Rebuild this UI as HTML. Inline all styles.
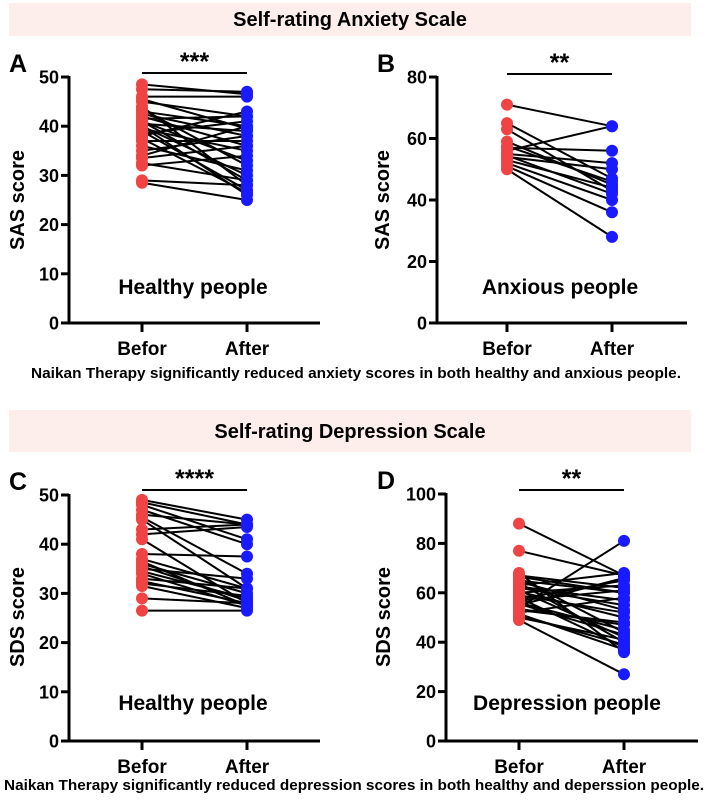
<!DOCTYPE html>
<html><head><meta charset="utf-8"><style>
body{margin:0;background:#fff;}
svg{display:block;font-family:"Liberation Sans",Arial,sans-serif;}
</style></head><body>
<svg id="fig" width="709" height="804" viewBox="0 0 709 804">
<rect x="9" y="3" width="682" height="33" fill="#fdeeeb"/>
<text x="350" y="26" text-anchor="middle" font-size="20" font-weight="bold">Self-rating Anxiety Scale</text>
<rect x="9" y="410" width="682" height="42" fill="#fdeeeb"/>
<text x="350" y="438" text-anchor="middle" font-size="20" font-weight="bold">Self-rating Depression Scale</text>
<text x="356" y="378" text-anchor="middle" font-size="15" font-weight="bold" textLength="650" lengthAdjust="spacingAndGlyphs">Naikan Therapy significantly reduced anxiety scores in both healthy and anxious people.</text>
<text x="354" y="790" text-anchor="middle" font-size="15" font-weight="bold" textLength="700" lengthAdjust="spacingAndGlyphs">Naikan Therapy significantly reduced depression scores in both healthy and deperssion people.</text>
</svg>
<script>
// Panel A data (SAS, healthy)
const categories = ["Befor","After"];
const aBefore = [48.5,47.5,46,45,44,43,42.5,42,41.5,41,40.5,40,39.5,39,38.5,37,36,35,34,33.5,32.5,32,29,28.5,43.5,40,45.5,38,41,37.5];
const aAfter  = [46.5,47,46,42,28,40,38,36,42,33,39,30,35,27,41,37,31,38,40,36,29,34,28,25,32,26,39.5,43,29,26.5];
const aTicks = [0,10,20,30,40,50];
// Panel B data (SAS, anxious)
const bBefore = [71,65,63,59,57,56,55,54,53,52,51,50,57.5,54.5];
const bAfter  = [64,47,43,45,56,64,52,50,44,40,36,28,46,42];
const bTicks = [0,20,40,60,80];
// Panel C data (SDS, healthy)
const cBefore = [49,48.5,48,47,46,45.5,45,43,42,41,38,37,36,35.5,35,34.5,34,33,32.5,32,31.5,29,26.5,36.5];
const cAfter  = [45,44,41,40,44,34,31,44,43.5,28,37.5,31,30,28.5,33,29,27.5,31,28,29.5,27,28,26.5,27.5];
const cTicks = [0,10,20,30,40,50];
// Panel D data (SDS, depression)
const dBefore = [88,77,68,67,66,65,64,63,62,61,60,59,58,57,56,55,54,53,52,51,50,49,60.5,62.5,57.5,55.5,66.5,64.5,53.5,51.5];
const dAfter  = [67,67,36,62,44,60,40,68,55,42,63,52,38,61,45,66,81,48,58,39,41,27,50,57,65,43,60,53,47,37];
const dTicks = [0,20,40,60,80,100];

const NS="http://www.w3.org/2000/svg";
const svg=document.getElementById('fig');
function mk(tag,attrs,parent){const e=document.createElementNS(NS,tag);for(const k in attrs)e.setAttribute(k,attrs[k]);(parent||svg).appendChild(e);return e;}

function panel(o){
  const g=mk('g',{});
  
  
  const yS=v=>o.y0-(v/o.max)*(o.y0-o.yTop);
  const xS=i=>i===0?o.xb:o.xa;
  const ya=mk('line',{x1:o.ax,y1:o.yTop-1,x2:o.ax,y2:o.y0+1.5,stroke:'#000','stroke-width':3},g);
  
  
  const xa=mk('line',{x1:o.ax-1.5,y1:o.y0,x2:o.xEnd,y2:o.y0,stroke:'#000','stroke-width':3},g);
  
  
  o.ticks.forEach(t=>{
    const y=yS(t);
    mk('line',{x1:o.ax-8,y1:y,x2:o.ax,y2:y,stroke:'#000','stroke-width':3},g);
    const tl=mk('text',{x:o.ax-10,y:y+6.5,'text-anchor':'end','font-size':18,'font-weight':'bold'},g);
    tl.textContent=t;
    
    
  });
  categories.forEach((c,i)=>{
    const x=xS(i);
    mk('line',{x1:x,y1:o.y0,x2:x,y2:o.y0+9,stroke:'#000','stroke-width':3},g);
    const cl=mk('text',{x:x,y:o.y0+32,'text-anchor':'middle','font-size':19,'font-weight':'bold'},g);
    cl.textContent=c;
    
    
  });
  const yt=mk('text',{x:0,y:0,transform:`translate(${o.titleX},${o.titleY}) rotate(-90)`,'text-anchor':'middle','font-size':20,'font-weight':'bold'},g);
  yt.textContent=o.yTitle;
  
  
  const pl=mk('text',{x:o.ax-o.letterDx,y:o.yTop-5,'font-size':25,'font-weight':'bold'},g);
  pl.textContent=o.letter;
  
  
  const gl=mk('text',{x:o.groupX,y:o.groupY,'text-anchor':'middle','font-size':21,'font-weight':'bold'},g);
  gl.textContent=o.group;
  
  
  const sb=mk('line',{x1:o.xb,y1:o.sigY,x2:o.xa,y2:o.sigY,stroke:'#000','stroke-width':2},g);
  
  
  const st=mk('text',{x:(o.xb+o.xa)/2,y:o.sigY-3,'text-anchor':'middle','font-size':25,'font-weight':'bold'},g);
  st.textContent=o.stars;
  
  
  o.before.forEach((b,i)=>{
    const ln=mk('line',{x1:xS(0),y1:yS(b),x2:xS(1),y2:yS(o.after[i]),stroke:'#000','stroke-width':2},g);
    
    
  });
  o.before.forEach(b=>{
    const c=mk('circle',{cx:xS(0),cy:yS(b),r:6,fill:'#f04444'},g);
    
    
  });
  o.after.forEach(a=>{
    const c=mk('circle',{cx:xS(1),cy:yS(a),r:6,fill:'#1a1aff'},g);
    
    
  });
}

panel({id:'a',letter:'A',ax:69,yTop:77,y0:323,max:50,ticks:aTicks,xb:142,xa:247,xEnd:320,before:aBefore,after:aAfter,
  yTitle:'SAS score',titleX:24,titleY:200,letterDx:60,group:'Healthy people',groupX:193,groupY:294,sigY:73,stars:'***'});
panel({id:'b',letter:'B',ax:437,yTop:77,y0:323,max:80,ticks:bTicks,xb:507,xa:612,xEnd:687,before:bBefore,after:bAfter,
  yTitle:'SAS score',titleX:389,titleY:200,letterDx:60,group:'Anxious people',groupX:560,groupY:294,sigY:74,stars:'**'});
panel({id:'c',letter:'C',ax:69,yTop:495,y0:741,max:50,ticks:cTicks,xb:142,xa:247,xEnd:320,before:cBefore,after:cAfter,
  yTitle:'SDS score',titleX:24,titleY:617,letterDx:60,group:'Healthy people',groupX:193,groupY:710,sigY:490,stars:'****'});
panel({id:'d',letter:'D',ax:446,yTop:494,y0:741,max:100,ticks:dTicks,xb:519,xa:624,xEnd:698,before:dBefore,after:dAfter,
  yTitle:'SDS score',titleX:390,titleY:617,letterDx:69,group:'Depression people',groupX:567,groupY:710,sigY:490,stars:'**'});
</script>
</body></html>
